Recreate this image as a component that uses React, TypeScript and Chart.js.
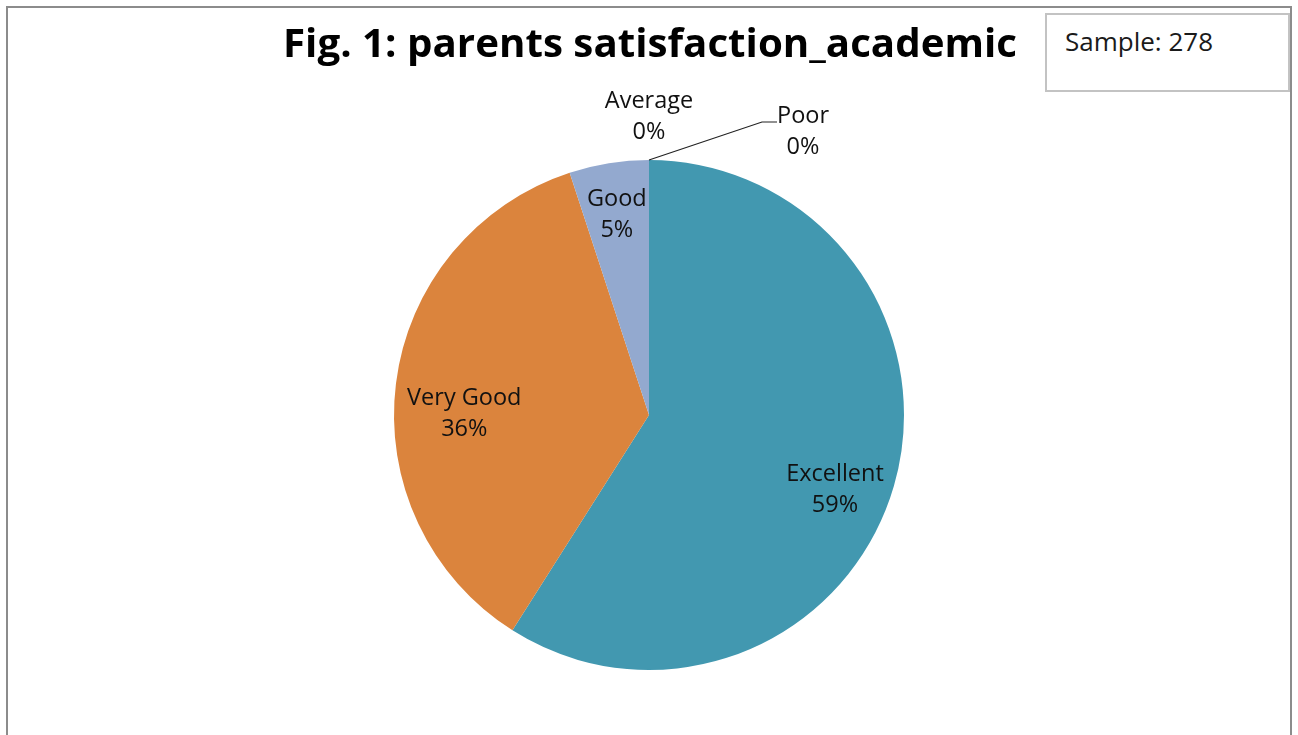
import React, { useEffect, useRef } from "react";
import { Chart, registerables } from "chart.js";

Chart.register(...registerables);

const categories = ["Excellent", "Very Good", "Good", "Average", "Poor"];
const counts = [164, 100, 14, 0, 0];
const sliceColors = ["#4298B0", "#DB843D", "#93A9CF", "#B9CD96", "#A99BBD"];
const titleText = "Fig. 1: parents satisfaction_academic";
const sampleText = "Sample: 278";

// label placement styles (per slice)
const labelStyles: any[] = [
  { mode: "in", f: 0.78, dx: -5, dy: 18 },
  { mode: "in", f: 0.73, dx: 0, dy: 20 },
  { mode: "in", f: 0.8, dx: 0, dy: 0 },
  { mode: "out", gap: 45 },
  { mode: "leader", elbow: [113, -38], run: 15, text: [26, 8] },
];

const FONT = '"Open Sans", "Noto Sans", sans-serif';
const LINE_GAP = 31;
const CAP = 16.5;

function drawTwoLines(ctx: CanvasRenderingContext2D, a: string, b: string, cx: number, cy: number) {
  ctx.fillText(a, cx, cy - LINE_GAP / 2 + CAP / 2);
  ctx.fillText(b, cx, cy + LINE_GAP / 2 + CAP / 2);
}

const labelPlugin = {
  id: "pieLabels",
  afterDatasetsDraw(chart: any) {
    const ctx: CanvasRenderingContext2D = chart.ctx;
    const meta = chart.getDatasetMeta(0);
    const data = chart.data.datasets[0].data as number[];
    const labels = chart.data.labels as string[];
    const total = data.reduce((s, v) => s + v, 0);
    ctx.save();
    ctx.font = `23.5px ${FONT}`;
    ctx.fillStyle = "#111111";
    ctx.textAlign = "center";
    ctx.textBaseline = "alphabetic";
    meta.data.forEach((el: any, i: number) => {
      const p = el.getProps(["x", "y", "startAngle", "endAngle", "outerRadius"], true);
      const mid = (p.startAngle + p.endAngle) / 2;
      const pct = Math.round((data[i] / total) * 100) + "%";
      const st = labelStyles[i];
      if (st.mode === "in") {
        const cx = p.x + Math.cos(mid) * p.outerRadius * st.f + st.dx;
        const cy = p.y + Math.sin(mid) * p.outerRadius * st.f + st.dy;
        drawTwoLines(ctx, labels[i], pct, cx, cy);
      } else if (st.mode === "out") {
        const cx = p.x + Math.cos(mid) * (p.outerRadius + st.gap);
        const cy = p.y + Math.sin(mid) * (p.outerRadius + st.gap);
        drawTwoLines(ctx, labels[i], pct, cx, cy);
      } else {
        const ex = p.x + Math.cos(mid) * p.outerRadius;
        const ey = p.y + Math.sin(mid) * p.outerRadius;
        const kx = ex + st.elbow[0];
        const ky = ey + st.elbow[1];
        const lx = kx + st.run;
        ctx.beginPath();
        ctx.strokeStyle = "#222222";
        ctx.lineWidth = 1.2;
        ctx.moveTo(ex, ey);
        ctx.lineTo(kx, ky);
        ctx.lineTo(lx, ky);
        ctx.stroke();
        drawTwoLines(ctx, labels[i], pct, lx + st.text[0], ky + st.text[1]);
      }
    });
    ctx.restore();
  },
  afterDraw(chart: any) {
    const ctx: CanvasRenderingContext2D = chart.ctx;
    ctx.save();
    ctx.font = `bold 39px ${FONT}`;
    ctx.fillStyle = "#000000";
    ctx.textAlign = "left";
    ctx.textBaseline = "alphabetic";
    const w = ctx.measureText(titleText).width;
    const target = 734;
    const sx = target / w;
    const cx = 642;
    ctx.translate(cx - target / 2, 49);
    ctx.scale(sx, 1);
    ctx.fillText(titleText, 0, 0);
    ctx.restore();
  },
};

export default function App() {
  const ref = useRef<HTMLCanvasElement | null>(null);
  useEffect(() => {
    if (!ref.current) return;
    const chart = new Chart(ref.current, {
      type: "pie",
      data: {
        labels: categories,
        datasets: [
          {
            data: counts,
            backgroundColor: sliceColors,
            borderWidth: 0,
          },
        ],
      },
      options: {
        animation: false,
        responsive: true,
        maintainAspectRatio: false,
        events: [],
        radius: 255,
        layout: { padding: { top: 127, bottom: 42, left: 341, right: 341 } },
        plugins: {
          legend: { display: false },
          tooltip: { enabled: false },
          title: { display: false },
        },
      } as any,
      plugins: [labelPlugin],
    });
    return () => chart.destroy();
  }, []);

  return (
    <div
      style={{
        position: "fixed",
        left: 6,
        top: 6,
        width: 1282,
        height: 729,
        borderTop: "2px solid #8c8c8c",
        borderLeft: "2px solid #8c8c8c",
        borderRight: "2px solid #8c8c8c",
        background: "#ffffff",
      }}
    >
      <div style={{ position: "absolute", left: 0, top: 0, width: 1282, height: 729 }}>
        <canvas ref={ref} />
      </div>
      <div
        style={{
          position: "absolute",
          left: 1037,
          top: 5,
          width: 245,
          height: 79,
          boxSizing: "border-box",
          border: "2px solid #c3c3c3",
          background: "#ffffff",
          paddingLeft: 18,
          paddingTop: 11,
          fontFamily: FONT,
          fontSize: 26,
          lineHeight: "30px",
          color: "#1a1a1a",
        }}
      >
        {sampleText}
      </div>
    </div>
  );
}
